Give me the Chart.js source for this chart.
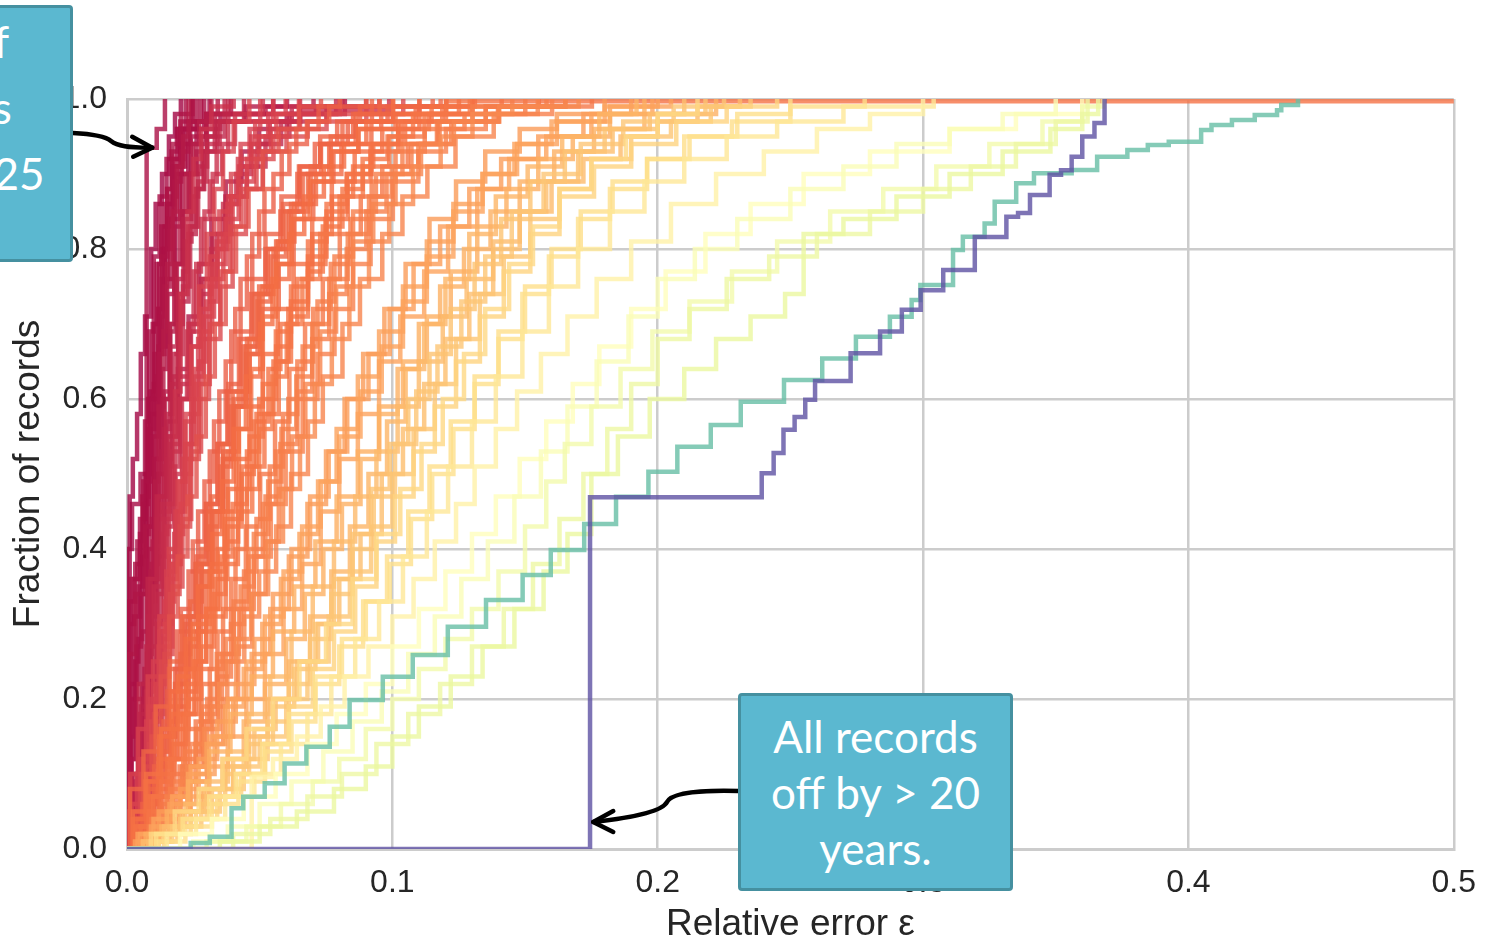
<!DOCTYPE html>
<html>
<head>
<meta charset="utf-8">
<title>Relative error by record source</title>
<script src="https://cdn.jsdelivr.net/npm/chart.js@4.4.1/dist/chart.umd.min.js"></script>
<style>
  html, body { margin: 0; padding: 0; background: #ffffff; overflow: hidden; }
  #stage { position: relative; width: 1491px; height: 943px; overflow: hidden; }
  #chart { position: absolute; left: 0; top: 0; }
  .callout {
    position: absolute; box-sizing: border-box;
    background: #5bb8d0; border: 3px solid #4590a0; border-radius: 4px;
    color: #ffffff; font-family: Lato, "Open Sans", sans-serif; font-size: 44px;
    text-align: center; white-space: nowrap;
  }
  #noteTight  { left: -192px; top: 5px;   width: 265px; height: 257px; line-height: 66px; padding-top: 0; }
  #noteOffset { left: 738px;  top: 693px; width: 275px; height: 198px; line-height: 56px; padding-top: 12px; }
</style>
</head>
<body>
<div id="stage">
  <canvas id="chart" width="1491" height="943"></canvas>
  <div class="callout" id="noteTight">95% of<br>records<br>off by &lt;.25</div>
  <div class="callout" id="noteOffset">All records<br>off by &gt; 20<br>years.</div>
</div>
<script>
// Axis ticks
const xTicks = [0, 0.1, 0.2, 0.3, 0.4, 0.5];
const yTicks = [0, 0.2, 0.4, 0.6, 0.8, 1.0];

// Empirical CDF breakpoints per record source: [relative error, cumulative fraction of records]
const tightSources = [
  [[0.0074,0.935],[0.0112,0.96],[0.0143,1]],
  [[0.001,0.47],[0.0022,0.52],[0.0038,0.58],[0.0052,0.66],[0.0068,0.71],[0.0091,0.8],[0.0108,0.86],[0.0132,0.9],[0.0158,0.95],[0.0181,0.98],[0.0203,1]],
  [[0.0018,0.12],[0.0031,0.25],[0.0043,0.35],[0.0061,0.46],[0.0079,0.6],[0.0097,0.7],[0.0112,0.78],[0.0129,0.83],[0.0151,0.88],[0.0168,0.93],[0.0192,0.96],[0.0221,1]],
  [[0,0.3],[0.0027,0.36],[0.0049,0.42],[0.0083,0.5],[0.0101,0.62],[0.0118,0.72],[0.0134,0.8],[0.0152,0.86],[0.0173,0.92],[0.0201,0.97],[0.0248,1]],
  [[0.0029,0.08],[0.0047,0.16],[0.0062,0.22],[0.0079,0.33],[0.0093,0.44],[0.0108,0.55],[0.0122,0.66],[0.0141,0.75],[0.0163,0.84],[0.0179,0.89],[0.0204,0.93],[0.0232,0.97],[0.0447,0.99],[0.0603,1]],
  [[0.0012,0.15],[0.0028,0.22],[0.0041,0.28],[0.0057,0.39],[0.0072,0.5],[0.0088,0.61],[0.0103,0.7],[0.0121,0.78],[0.0139,0.86],[0.0177,0.91],[0.0219,0.96],[0.0291,1]],
  [[0.0021,0.05],[0.0043,0.12],[0.0061,0.2],[0.0087,0.33],[0.0109,0.45],[0.0127,0.53],[0.0142,0.6],[0.0163,0.7],[0.0178,0.78],[0.0199,0.85],[0.0223,0.9],[0.0248,0.94],[0.0272,0.97],[0.0318,1]],
  [[0.0041,0.1],[0.0058,0.2],[0.0082,0.3],[0.0097,0.41],[0.0121,0.52],[0.0139,0.61],[0.0162,0.7],[0.0188,0.78],[0.0209,0.85],[0.0238,0.9],[0.0262,0.93],[0.0301,0.98],[0.0522,0.99],[0.0703,1]],
  [[0.0011,0.04],[0.0032,0.1],[0.0048,0.18],[0.0073,0.27],[0.0089,0.36],[0.0122,0.47],[0.0148,0.58],[0.0171,0.66],[0.0193,0.74],[0.0218,0.81],[0.0243,0.87],[0.0268,0.91],[0.0302,0.95],[0.0368,1]],
  [[0,0.4],[0.0019,0.46],[0.0051,0.5],[0.0088,0.58],[0.0122,0.67],[0.0148,0.76],[0.0182,0.84],[0.0199,0.9],[0.0231,0.94],[0.0262,0.97],[0.0311,1]],
  [[0.0045,0.02],[0.0061,0.08],[0.0083,0.17],[0.0112,0.3],[0.0128,0.42],[0.0152,0.52],[0.0168,0.62],[0.0193,0.7],[0.0211,0.77],[0.0229,0.83],[0.0262,0.88],[0.0288,0.93],[0.0331,0.97],[0.0382,1]],
  [[0.0015,0.2],[0.0036,0.27],[0.0053,0.34],[0.0077,0.43],[0.0094,0.55],[0.0111,0.63],[0.0124,0.71],[0.0142,0.8],[0.0166,0.87],[0.0188,0.92],[0.0212,0.96],[0.0243,1]],
  [[0.0049,0.04],[0.0076,0.1],[0.0098,0.2],[0.0127,0.31],[0.0149,0.43],[0.0177,0.51],[0.0198,0.6],[0.0226,0.69],[0.0251,0.77],[0.0279,0.84],[0.0312,0.89],[0.0338,0.93],[0.0381,0.97],[0.0652,0.985],[0.0988,1]],
  [[0.0021,0.07],[0.0042,0.14],[0.0066,0.24],[0.0088,0.37],[0.0106,0.49],[0.0119,0.59],[0.0137,0.69],[0.0151,0.78],[0.0172,0.85],[0.0188,0.91],[0.0212,0.95],[0.0233,1]],
  [[0.0005,0.33],[0.0031,0.38],[0.0058,0.47],[0.0082,0.56],[0.0104,0.66],[0.0131,0.76],[0.0153,0.84],[0.0181,0.9],[0.0207,0.94],[0.0238,0.97],[0.0279,1]],
  [[0.0036,0.06],[0.0054,0.15],[0.0076,0.26],[0.0093,0.38],[0.0117,0.5],[0.0133,0.6],[0.0161,0.69],[0.0183,0.78],[0.0212,0.85],[0.0233,0.9],[0.0262,0.94],[0.0298,0.98],[0.0342,1]],
  [[0.0062,0.03],[0.0091,0.08],[0.0122,0.16],[0.0149,0.27],[0.0172,0.38],[0.0198,0.49],[0.0221,0.58],[0.0243,0.67],[0.0272,0.75],[0.0301,0.82],[0.0329,0.88],[0.0362,0.93],[0.0402,0.97],[0.0461,1]],
  [[0.0033,0.05],[0.0068,0.11],[0.0102,0.19],[0.0131,0.28],[0.0158,0.39],[0.0183,0.5],[0.0207,0.6],[0.0232,0.7],[0.0261,0.78],[0.0292,0.85],[0.0323,0.9],[0.0358,0.94],[0.0407,0.98],[0.0512,1]],
  [[0.0008,0.22],[0.0026,0.31],[0.0049,0.44],[0.0068,0.57],[0.0084,0.69],[0.0101,0.79],[0.0123,0.87],[0.0149,0.92],[0.0188,0.96],[0.0352,0.98],[0.0551,1]],
  [[0.0058,0.05],[0.0071,0.18],[0.0089,0.35],[0.0102,0.52],[0.0118,0.67],[0.0131,0.79],[0.0152,0.88],[0.0171,0.94],[0.0203,0.98],[0.0247,1]],
  [[0.0025,0.09],[0.0052,0.19],[0.0081,0.31],[0.0111,0.44],[0.0139,0.56],[0.0162,0.67],[0.0189,0.76],[0.0213,0.84],[0.0242,0.9],[0.0281,0.95],[0.0332,0.98],[0.0712,0.99],[0.0901,1]],
  [[0.0014,0.36],[0.0039,0.41],[0.0062,0.49],[0.0092,0.6],[0.0119,0.72],[0.0142,0.83],[0.0171,0.91],[0.0202,0.96],[0.0263,1]],
  [[0.0068,0.02],[0.0098,0.12],[0.0132,0.29],[0.0158,0.46],[0.0181,0.61],[0.0202,0.74],[0.0228,0.85],[0.0251,0.92],[0.0279,0.96],[0.0318,0.99],[0.0402,1]],
  [[0.0032,0.03],[0.0048,0.09],[0.0069,0.16],[0.0091,0.27],[0.0113,0.39],[0.0142,0.51],[0.0171,0.63],[0.0198,0.73],[0.0232,0.82],[0.0259,0.88],[0.0291,0.93],[0.0341,0.97],[0.0441,1]],
  [[0.0009,0.12],[0.0034,0.2],[0.0057,0.29],[0.0079,0.4],[0.0103,0.52],[0.0128,0.64],[0.0152,0.74],[0.0178,0.83],[0.0208,0.9],[0.0241,0.95],[0.0298,0.98],[0.0392,1]],
  [[0.0045,0.07],[0.0066,0.13],[0.0088,0.22],[0.0114,0.34],[0.0138,0.45],[0.0161,0.55],[0.0187,0.66],[0.0211,0.75],[0.0238,0.83],[0.0268,0.89],[0.0302,0.94],[0.0349,0.97],[0.0621,0.99],[0.0812,1]],
  [[0.0015,0.1],[0.0045,0.22],[0.0078,0.36],[0.0112,0.47],[0.0149,0.55],[0.0192,0.63],[0.0238,0.7],[0.0279,0.76],[0.0322,0.82],[0.0371,0.87],[0.0428,0.91],[0.0492,0.94],[0.0581,0.97],[0.0752,0.99],[0.0951,1]],
  [[0.0038,0.08],[0.0072,0.21],[0.0101,0.35],[0.0132,0.46],[0.0161,0.54],[0.0199,0.62],[0.0241,0.69],[0.0288,0.76],[0.0339,0.82],[0.0392,0.87],[0.0451,0.91],[0.0522,0.95],[0.0612,0.98],[0.0788,1]],
  [[0.0005,0.26],[0.0032,0.34],[0.0068,0.43],[0.0105,0.5],[0.0148,0.57],[0.0192,0.64],[0.0232,0.71],[0.0272,0.78],[0.0318,0.84],[0.0372,0.89],[0.0432,0.93],[0.0498,0.96],[0.0602,0.98],[0.0821,1]],
  [[0.0052,0.04],[0.0081,0.15],[0.0112,0.3],[0.0139,0.44],[0.0168,0.53],[0.0201,0.6],[0.0242,0.67],[0.0278,0.74],[0.0318,0.8],[0.0362,0.86],[0.0412,0.9],[0.0468,0.94],[0.0538,0.97],[0.0652,1]]
];

const moderateSources = [
  [[0.0021,0.03],[0.0049,0.08],[0.0083,0.14],[0.0108,0.22],[0.0142,0.3],[0.0168,0.38],[0.0203,0.46],[0.0227,0.54],[0.0262,0.62],[0.0288,0.69],[0.0321,0.76],[0.0363,0.82],[0.0398,0.87],[0.0452,0.92],[0.0497,0.95],[0.0563,0.98],[0.0648,1]],
  [[0.0012,0.1],[0.0041,0.16],[0.0078,0.23],[0.0122,0.31],[0.0158,0.4],[0.0191,0.49],[0.0218,0.57],[0.0252,0.64],[0.0279,0.72],[0.0312,0.79],[0.0348,0.85],[0.0392,0.9],[0.0428,0.94],[0.0483,0.97],[0.0551,1]],
  [[0.0031,0.02],[0.0072,0.06],[0.0108,0.13],[0.0152,0.21],[0.0188,0.29],[0.0232,0.37],[0.0268,0.45],[0.0312,0.53],[0.0348,0.61],[0.0393,0.69],[0.0428,0.76],[0.0472,0.82],[0.0518,0.88],[0.0583,0.93],[0.0638,0.96],[0.0722,0.99],[0.0802,1]],
  [[0,0.05],[0.0038,0.1],[0.0072,0.17],[0.0098,0.25],[0.0142,0.33],[0.0178,0.42],[0.0212,0.5],[0.0241,0.58],[0.0272,0.65],[0.0298,0.73],[0.0342,0.8],[0.0378,0.86],[0.0422,0.91],[0.0468,0.95],[0.0532,0.98],[0.0598,1]],
  [[0.0042,0.04],[0.0078,0.09],[0.0122,0.16],[0.0158,0.24],[0.0203,0.32],[0.0248,0.41],[0.0292,0.49],[0.0328,0.57],[0.0372,0.65],[0.0408,0.72],[0.0452,0.79],[0.0498,0.85],[0.0552,0.9],[0.0612,0.94],[0.0678,0.97],[0.0762,0.99],[0.0902,1]],
  [[0.0018,0.06],[0.0062,0.12],[0.0088,0.2],[0.0122,0.29],[0.0148,0.37],[0.0182,0.45],[0.0208,0.52],[0.0243,0.6],[0.0268,0.68],[0.0312,0.75],[0.0338,0.81],[0.0382,0.87],[0.0418,0.92],[0.0462,0.96],[0.0502,1]],
  [[0.0032,0.02],[0.0078,0.05],[0.0132,0.1],[0.0178,0.16],[0.0232,0.22],[0.0278,0.29],[0.0333,0.36],[0.0378,0.43],[0.0432,0.5],[0.0478,0.57],[0.0533,0.64],[0.0578,0.7],[0.0642,0.76],[0.0698,0.82],[0.0772,0.87],[0.0852,0.91],[0.0928,0.94],[0.1022,0.97],[0.1148,0.99],[0.1302,1]],
  [[0.0051,0.03],[0.0098,0.07],[0.0162,0.12],[0.0218,0.18],[0.0272,0.24],[0.0318,0.31],[0.0372,0.38],[0.0418,0.45],[0.0472,0.51],[0.0518,0.58],[0.0572,0.65],[0.0618,0.71],[0.0682,0.77],[0.0738,0.83],[0.0812,0.88],[0.0888,0.92],[0.0982,0.95],[0.1078,0.98],[0.1203,1]],
  [[0.0022,0.04],[0.0068,0.09],[0.0122,0.15],[0.0168,0.21],[0.0222,0.28],[0.0268,0.35],[0.0322,0.42],[0.0358,0.49],[0.0402,0.56],[0.0448,0.63],[0.0502,0.7],[0.0548,0.76],[0.0612,0.82],[0.0668,0.87],[0.0742,0.91],[0.0818,0.94],[0.0902,0.97],[0.1003,1]],
  [[0.0042,0.01],[0.0098,0.04],[0.0162,0.08],[0.0218,0.13],[0.0282,0.19],[0.0338,0.26],[0.0402,0.33],[0.0458,0.4],[0.0522,0.47],[0.0578,0.54],[0.0642,0.61],[0.0698,0.68],[0.0762,0.74],[0.0828,0.8],[0.0902,0.85],[0.0978,0.9],[0.1072,0.94],[0.1178,0.97],[0.1302,0.99],[0.1452,1]],
  [[0.0011,0.08],[0.0062,0.13],[0.0108,0.19],[0.0162,0.25],[0.0208,0.31],[0.0262,0.38],[0.0308,0.45],[0.0362,0.52],[0.0408,0.59],[0.0462,0.66],[0.0508,0.72],[0.0572,0.78],[0.0628,0.84],[0.0702,0.89],[0.0778,0.93],[0.0872,0.96],[0.0958,0.98],[0.1102,1]],
  [[0.0062,0.02],[0.0118,0.05],[0.0182,0.09],[0.0238,0.14],[0.0302,0.2],[0.0358,0.26],[0.0422,0.32],[0.0478,0.39],[0.0542,0.46],[0.0598,0.53],[0.0662,0.6],[0.0718,0.66],[0.0782,0.72],[0.0852,0.78],[0.0918,0.84],[0.1002,0.89],[0.1098,0.93],[0.1202,0.96],[0.1352,0.98],[0.1602,1]],
  [[0.0032,0.03],[0.0088,0.07],[0.0152,0.12],[0.0198,0.18],[0.0252,0.25],[0.0298,0.32],[0.0352,0.39],[0.0398,0.46],[0.0452,0.53],[0.0498,0.6],[0.0562,0.67],[0.0618,0.73],[0.0682,0.79],[0.0752,0.85],[0.0828,0.9],[0.0922,0.94],[0.1048,0.97],[0.1202,0.997],[0.6,1]],
  [[0.0022,0.05],[0.0072,0.1],[0.0128,0.16],[0.0192,0.23],[0.0248,0.3],[0.0312,0.37],[0.0368,0.44],[0.0432,0.51],[0.0488,0.58],[0.0552,0.65],[0.0608,0.72],[0.0682,0.78],[0.0748,0.84],[0.0832,0.89],[0.0918,0.93],[0.1022,0.96],[0.1138,0.98],[0.1302,1]],
  [[0.0082,0.02],[0.0138,0.05],[0.0202,0.09],[0.0258,0.14],[0.0322,0.19],[0.0378,0.25],[0.0442,0.31],[0.0498,0.37],[0.0562,0.43],[0.0618,0.5],[0.0682,0.57],[0.0738,0.63],[0.0812,0.7],[0.0878,0.76],[0.0962,0.82],[0.1038,0.87],[0.1132,0.91],[0.1238,0.95],[0.1382,0.98],[0.1548,1]],
  [[0.0032,0.04],[0.0078,0.08],[0.0122,0.13],[0.0158,0.19],[0.0202,0.26],[0.0238,0.33],[0.0282,0.4],[0.0318,0.47],[0.0362,0.54],[0.0398,0.61],[0.0452,0.68],[0.0498,0.75],[0.0562,0.81],[0.0618,0.86],[0.0692,0.91],[0.0768,0.95],[0.0862,0.98],[0.0952,1]],
  [[0.0021,0.02],[0.0058,0.06],[0.0102,0.11],[0.0138,0.17],[0.0182,0.24],[0.0218,0.31],[0.0262,0.39],[0.0298,0.46],[0.0342,0.54],[0.0378,0.61],[0.0422,0.68],[0.0468,0.74],[0.0522,0.8],[0.0578,0.85],[0.0642,0.9],[0.0708,0.94],[0.0792,0.97],[0.0878,0.99],[0.1002,1]],
  [[0.0052,0.01],[0.0108,0.03],[0.0172,0.07],[0.0228,0.11],[0.0292,0.16],[0.0348,0.22],[0.0412,0.28],[0.0468,0.34],[0.0532,0.41],[0.0588,0.48],[0.0652,0.55],[0.0708,0.62],[0.0772,0.68],[0.0838,0.75],[0.0912,0.81],[0.0988,0.86],[0.1078,0.91],[0.1182,0.95],[0.1302,0.98],[0.1452,0.99],[0.1702,1]],
  [[0.0028,0.03],[0.0061,0.08],[0.0093,0.15],[0.0127,0.23],[0.0159,0.31],[0.0191,0.39],[0.0228,0.47],[0.0262,0.55],[0.0297,0.63],[0.0331,0.7],[0.0372,0.77],[0.0411,0.83],[0.0458,0.88],[0.0512,0.93],[0.0571,0.96],[0.0648,0.99],[0.0731,1]],
  [[0.0039,0.02],[0.0082,0.06],[0.0119,0.11],[0.0161,0.17],[0.0203,0.24],[0.0239,0.31],[0.0281,0.38],[0.0322,0.45],[0.0361,0.52],[0.0402,0.59],[0.0449,0.66],[0.0492,0.73],[0.0541,0.79],[0.0599,0.85],[0.0662,0.9],[0.0731,0.94],[0.0812,0.97],[0.0923,1]],
  [[0.0018,0.04],[0.0052,0.1],[0.0091,0.17],[0.0128,0.25],[0.0162,0.34],[0.0198,0.43],[0.0238,0.52],[0.0271,0.6],[0.0309,0.68],[0.0352,0.75],[0.0398,0.82],[0.0448,0.88],[0.0512,0.93],[0.0601,0.96],[0.0752,0.98],[0.1041,1]],
  [[0.0049,0.03],[0.0099,0.07],[0.0148,0.12],[0.0189,0.19],[0.0232,0.27],[0.0271,0.35],[0.0312,0.43],[0.0351,0.51],[0.0392,0.59],[0.0438,0.67],[0.0482,0.74],[0.0531,0.8],[0.0588,0.86],[0.0652,0.91],[0.0728,0.95],[0.0852,0.98],[0.1102,1]],
  [[0.0031,0.05],[0.0069,0.11],[0.0102,0.18],[0.0141,0.26],[0.0172,0.35],[0.0209,0.44],[0.0242,0.53],[0.0279,0.62],[0.0312,0.7],[0.0352,0.77],[0.0389,0.83],[0.0431,0.88],[0.0488,0.92],[0.0552,0.95],[0.0681,0.97],[0.0902,0.99],[0.1203,1]],
  [[0.0062,0.02],[0.0112,0.05],[0.0171,0.1],[0.0228,0.16],[0.0281,0.22],[0.0341,0.29],[0.0392,0.36],[0.0448,0.43],[0.0502,0.5],[0.0558,0.57],[0.0612,0.64],[0.0671,0.7],[0.0738,0.76],[0.0802,0.82],[0.0881,0.87],[0.0962,0.91],[0.1058,0.94],[0.1172,0.97],[0.1398,0.99],[0.1752,1]],
  [[0.0012,0.06],[0.0048,0.12],[0.0081,0.19],[0.0119,0.27],[0.0152,0.36],[0.0188,0.45],[0.0219,0.54],[0.0251,0.63],[0.0289,0.71],[0.0328,0.78],[0.0372,0.84],[0.0421,0.89],[0.0478,0.93],[0.0542,0.96],[0.0652,0.98],[0.0802,1]],
  [[0.0038,0.02],[0.0082,0.05],[0.0128,0.09],[0.0179,0.14],[0.0231,0.2],[0.0279,0.27],[0.0328,0.34],[0.0371,0.41],[0.0419,0.48],[0.0462,0.55],[0.0512,0.62],[0.0561,0.69],[0.0618,0.75],[0.0682,0.81],[0.0752,0.86],[0.0829,0.9],[0.0918,0.94],[0.1032,0.97],[0.1188,0.99],[0.1412,1]],
  [[0.0071,0.03],[0.0121,0.07],[0.0168,0.12],[0.0212,0.18],[0.0258,0.25],[0.0299,0.32],[0.0342,0.4],[0.0381,0.48],[0.0422,0.56],[0.0468,0.64],[0.0512,0.71],[0.0562,0.78],[0.0621,0.84],[0.0688,0.89],[0.0771,0.93],[0.0872,0.96],[0.1012,0.98],[0.1251,1]],
  [[0.0025,0.03],[0.0072,0.07],[0.0118,0.12],[0.0168,0.18],[0.0221,0.24],[0.0268,0.31],[0.0318,0.38],[0.0368,0.45],[0.0412,0.52],[0.0462,0.59],[0.0512,0.66],[0.0568,0.72],[0.0628,0.78],[0.0698,0.84],[0.0772,0.89],[0.0858,0.93],[0.0962,0.96],[0.1102,0.98],[0.1352,0.99],[0.1552,1]],
  [[0.0058,0.04],[0.0102,0.09],[0.0142,0.15],[0.0182,0.22],[0.0219,0.3],[0.0258,0.38],[0.0298,0.46],[0.0341,0.54],[0.0382,0.62],[0.0428,0.69],[0.0472,0.76],[0.0522,0.82],[0.0582,0.87],[0.0648,0.91],[0.0728,0.94],[0.0832,0.97],[0.0982,0.99],[0.1152,1]],
  [[0.0042,0.01],[0.0092,0.04],[0.0152,0.07],[0.0208,0.11],[0.0262,0.16],[0.0318,0.22],[0.0372,0.28],[0.0428,0.35],[0.0478,0.42],[0.0532,0.49],[0.0582,0.56],[0.0638,0.63],[0.0698,0.7],[0.0762,0.76],[0.0832,0.82],[0.0912,0.87],[0.0998,0.91],[0.1098,0.94],[0.1222,0.97],[0.1402,0.99],[0.1652,1]],
  [[0.0055,0.03],[0.0112,0.08],[0.0168,0.14],[0.0221,0.21],[0.0262,0.29],[0.0298,0.37],[0.0338,0.45],[0.0379,0.53],[0.0421,0.61],[0.0462,0.68],[0.0511,0.75],[0.0568,0.81],[0.0631,0.86],[0.0712,0.9],[0.0808,0.94],[0.0921,0.97],[0.1088,0.99],[0.1311,1]],
  [[0.0082,0.03],[0.0148,0.07],[0.0212,0.12],[0.0278,0.18],[0.0341,0.25],[0.0402,0.32],[0.0458,0.39],[0.0512,0.46],[0.0561,0.53],[0.0608,0.6],[0.0662,0.67],[0.0718,0.73],[0.0782,0.79],[0.0852,0.85],[0.0938,0.9],[0.1038,0.94],[0.1168,0.97],[0.1352,0.99],[0.1581,1]],
  [[0.0068,0.02],[0.0131,0.06],[0.0198,0.11],[0.0259,0.17],[0.0312,0.24],[0.0362,0.32],[0.0409,0.4],[0.0452,0.48],[0.0498,0.56],[0.0548,0.63],[0.0602,0.7],[0.0661,0.76],[0.0728,0.82],[0.0801,0.87],[0.0889,0.91],[0.0988,0.95],[0.1121,0.98],[0.1292,1]],
  [[0.0105,0.02],[0.0172,0.05],[0.0238,0.09],[0.0302,0.14],[0.0362,0.2],[0.0419,0.27],[0.0472,0.34],[0.0522,0.41],[0.0572,0.48],[0.0622,0.55],[0.0672,0.62],[0.0728,0.69],[0.0788,0.75],[0.0852,0.81],[0.0928,0.86],[0.1012,0.9],[0.1108,0.94],[0.1232,0.97],[0.1402,0.99],[0.1652,1]],
  [[0.0035,0.04],[0.0081,0.09],[0.0131,0.15],[0.0181,0.22],[0.0232,0.29],[0.0279,0.37],[0.0322,0.45],[0.0362,0.53],[0.0402,0.6],[0.0448,0.67],[0.0498,0.74],[0.0552,0.8],[0.0612,0.85],[0.0682,0.9],[0.0762,0.94],[0.0862,0.97],[0.1002,0.99],[0.1182,1]],
  [[0.0092,0.02],[0.0162,0.06],[0.0228,0.11],[0.0288,0.17],[0.0342,0.23],[0.0392,0.3],[0.0441,0.37],[0.0488,0.44],[0.0538,0.51],[0.0588,0.58],[0.0642,0.65],[0.0702,0.72],[0.0768,0.78],[0.0842,0.84],[0.0922,0.89],[0.1012,0.93],[0.1122,0.96],[0.1272,0.98],[0.1501,1]]
];

const looseSources = [
  [[0.005,0.01],[0.012,0.03],[0.019,0.06],[0.026,0.1],[0.033,0.15],[0.04,0.2],[0.047,0.26],[0.054,0.32],[0.061,0.39],[0.068,0.46],[0.075,0.53],[0.082,0.6],[0.089,0.66],[0.097,0.72],[0.105,0.78],[0.114,0.84],[0.124,0.89],[0.135,0.93],[0.148,0.96],[0.162,0.98],[0.18,1]],
  [[0.004,0.02],[0.01,0.04],[0.017,0.07],[0.024,0.11],[0.031,0.15],[0.038,0.2],[0.045,0.25],[0.052,0.31],[0.059,0.37],[0.066,0.43],[0.073,0.49],[0.08,0.55],[0.088,0.61],[0.096,0.67],[0.104,0.73],[0.113,0.79],[0.123,0.85],[0.134,0.9],[0.146,0.94],[0.16,0.97],[0.18,0.99],[0.2,1]],
  [[0.006,0.01],[0.014,0.03],[0.022,0.06],[0.03,0.09],[0.038,0.13],[0.046,0.18],[0.054,0.23],[0.062,0.29],[0.07,0.35],[0.078,0.41],[0.086,0.47],[0.094,0.53],[0.102,0.59],[0.11,0.65],[0.119,0.71],[0.128,0.76],[0.138,0.81],[0.148,0.85],[0.16,0.89],[0.172,0.92],[0.186,0.95],[0.2,0.97],[0.215,0.99],[0.231,1]],
  [[0.008,0.01],[0.016,0.03],[0.024,0.05],[0.032,0.08],[0.04,0.12],[0.048,0.16],[0.056,0.2],[0.064,0.25],[0.072,0.3],[0.08,0.36],[0.088,0.42],[0.096,0.5],[0.104,0.56],[0.112,0.62],[0.12,0.68],[0.129,0.74],[0.138,0.8],[0.148,0.85],[0.158,0.89],[0.17,0.93],[0.183,0.96],[0.197,0.98],[0.21,1]],
  [[0.01,0.02],[0.02,0.04],[0.03,0.07],[0.04,0.11],[0.05,0.15],[0.06,0.2],[0.068,0.25],[0.076,0.31],[0.084,0.37],[0.092,0.43],[0.1,0.5],[0.108,0.56],[0.116,0.62],[0.124,0.68],[0.133,0.74],[0.142,0.79],[0.152,0.84],[0.163,0.88],[0.175,0.92],[0.19,0.95],[0.205,0.97],[0.22,0.99],[0.235,1]],
  [[0.012,0.01],[0.022,0.03],[0.032,0.06],[0.042,0.09],[0.052,0.13],[0.062,0.17],[0.071,0.22],[0.08,0.27],[0.089,0.33],[0.098,0.39],[0.106,0.45],[0.114,0.51],[0.122,0.57],[0.131,0.63],[0.14,0.69],[0.15,0.75],[0.16,0.8],[0.171,0.85],[0.183,0.89],[0.196,0.92],[0.21,0.95],[0.228,0.97],[0.25,0.99],[0.278,1]],
  [[0.015,0.02],[0.026,0.04],[0.037,0.07],[0.048,0.1],[0.058,0.14],[0.068,0.18],[0.077,0.23],[0.086,0.28],[0.095,0.33],[0.104,0.39],[0.113,0.45],[0.121,0.51],[0.13,0.57],[0.139,0.63],[0.149,0.69],[0.159,0.75],[0.17,0.8],[0.182,0.85],[0.195,0.89],[0.21,0.92],[0.226,0.95],[0.245,0.97],[0.27,0.99],[0.304,1]],
  [[0.009,0.02],[0.018,0.05],[0.027,0.08],[0.036,0.12],[0.045,0.16],[0.055,0.2],[0.065,0.25],[0.075,0.3],[0.085,0.36],[0.094,0.42],[0.103,0.48],[0.111,0.54],[0.119,0.6],[0.127,0.66],[0.135,0.72],[0.144,0.78],[0.153,0.83],[0.163,0.88],[0.175,0.92],[0.188,0.95],[0.2,0.98],[0.215,1]],
  [[0.007,0.02],[0.015,0.05],[0.023,0.09],[0.031,0.13],[0.039,0.18],[0.047,0.23],[0.055,0.29],[0.063,0.35],[0.071,0.41],[0.079,0.47],[0.087,0.53],[0.095,0.59],[0.104,0.65],[0.113,0.71],[0.122,0.77],[0.132,0.83],[0.143,0.88],[0.155,0.92],[0.168,0.95],[0.182,0.98],[0.195,1]],
  [[0.006,0.01],[0.013,0.03],[0.021,0.05],[0.029,0.08],[0.037,0.11],[0.045,0.15],[0.053,0.2],[0.061,0.25],[0.069,0.31],[0.077,0.37],[0.084,0.43],[0.091,0.5],[0.098,0.57],[0.105,0.64],[0.112,0.7],[0.12,0.76],[0.129,0.82],[0.139,0.87],[0.151,0.91],[0.164,0.95],[0.178,0.98],[0.192,1]],
  [[0.011,0.02],[0.021,0.04],[0.031,0.07],[0.041,0.1],[0.051,0.14],[0.061,0.18],[0.071,0.23],[0.081,0.28],[0.09,0.33],[0.099,0.38],[0.107,0.44],[0.115,0.5],[0.123,0.56],[0.131,0.62],[0.14,0.68],[0.149,0.74],[0.159,0.79],[0.17,0.84],[0.182,0.88],[0.196,0.92],[0.212,0.95],[0.23,0.98],[0.25,1]],
  [[0.008,0.02],[0.016,0.04],[0.024,0.07],[0.031,0.11],[0.038,0.15],[0.045,0.2],[0.052,0.26],[0.059,0.32],[0.066,0.38],[0.073,0.45],[0.08,0.52],[0.087,0.58],[0.095,0.65],[0.103,0.71],[0.112,0.77],[0.121,0.83],[0.132,0.88],[0.144,0.92],[0.158,0.95],[0.175,0.98],[0.198,1]],
  [[0.012,0.02],[0.02,0.05],[0.028,0.08],[0.036,0.12],[0.044,0.17],[0.052,0.22],[0.06,0.28],[0.067,0.34],[0.074,0.4],[0.081,0.46],[0.088,0.52],[0.095,0.58],[0.102,0.64],[0.11,0.7],[0.118,0.75],[0.127,0.8],[0.137,0.85],[0.148,0.89],[0.161,0.93],[0.176,0.96],[0.195,0.98],[0.222,1]],
  [[0.003,0.01],[0.009,0.03],[0.016,0.06],[0.023,0.1],[0.03,0.14],[0.037,0.19],[0.044,0.24],[0.051,0.3],[0.058,0.36],[0.065,0.42],[0.072,0.49],[0.079,0.56],[0.087,0.63],[0.095,0.69],[0.104,0.75],[0.113,0.81],[0.123,0.86],[0.134,0.9],[0.147,0.94],[0.162,0.97],[0.182,0.99],[0.205,1]],
  [[0.01,0.01],[0.019,0.03],[0.028,0.06],[0.037,0.1],[0.046,0.14],[0.055,0.19],[0.063,0.24],[0.071,0.3],[0.078,0.36],[0.085,0.42],[0.092,0.48],[0.099,0.54],[0.106,0.6],[0.114,0.66],[0.122,0.72],[0.131,0.78],[0.141,0.84],[0.152,0.89],[0.165,0.93],[0.18,0.96],[0.2,0.98],[0.218,1]],
  [[0.014,0.02],[0.024,0.04],[0.034,0.07],[0.043,0.1],[0.052,0.14],[0.061,0.19],[0.07,0.24],[0.078,0.29],[0.086,0.35],[0.094,0.41],[0.101,0.47],[0.108,0.53],[0.116,0.59],[0.124,0.65],[0.133,0.71],[0.142,0.77],[0.152,0.82],[0.163,0.87],[0.176,0.91],[0.19,0.94],[0.207,0.97],[0.226,0.99],[0.245,1]],
  [[0.005,0.02],[0.012,0.05],[0.02,0.08],[0.027,0.12],[0.034,0.17],[0.041,0.22],[0.048,0.28],[0.055,0.34],[0.062,0.4],[0.069,0.47],[0.076,0.53],[0.083,0.6],[0.091,0.66],[0.099,0.72],[0.108,0.78],[0.118,0.83],[0.129,0.88],[0.141,0.92],[0.155,0.95],[0.172,0.98],[0.19,1]],
  [[0.009,0.01],[0.017,0.03],[0.026,0.05],[0.035,0.08],[0.044,0.12],[0.053,0.17],[0.061,0.22],[0.069,0.28],[0.077,0.34],[0.085,0.4],[0.093,0.47],[0.101,0.54],[0.109,0.61],[0.117,0.67],[0.126,0.73],[0.135,0.79],[0.145,0.85],[0.157,0.9],[0.171,0.94],[0.187,0.97],[0.206,0.99],[0.225,1]]
];

const wideSources = [
  [[0.047,0.096],[0.055,0.12],[0.064,0.15],[0.073,0.19],[0.082,0.23],[0.091,0.27],[0.1,0.31],[0.108,0.36],[0.116,0.41],[0.124,0.46],[0.131,0.51],[0.139,0.56],[0.147,0.61],[0.156,0.66],[0.166,0.71],[0.177,0.76],[0.19,0.81],[0.205,0.86],[0.222,0.9],[0.24,0.93],[0.26,0.96],[0.28,0.98],[0.3,1]],
  [[0.02,0.02],[0.032,0.04],[0.044,0.07],[0.056,0.1],[0.068,0.14],[0.079,0.18],[0.09,0.22],[0.1,0.27],[0.11,0.32],[0.12,0.37],[0.13,0.42],[0.139,0.47],[0.148,0.52],[0.158,0.57],[0.168,0.62],[0.178,0.67],[0.19,0.72],[0.203,0.77],[0.218,0.82],[0.235,0.86],[0.255,0.9],[0.28,0.93],[0.31,0.96],[0.335,0.98],[0.36,1]],
  [[0.025,0.01],[0.038,0.03],[0.05,0.06],[0.062,0.09],[0.074,0.13],[0.085,0.17],[0.096,0.21],[0.106,0.26],[0.116,0.31],[0.126,0.36],[0.136,0.41],[0.146,0.47],[0.156,0.53],[0.166,0.59],[0.177,0.65],[0.189,0.71],[0.2,0.76],[0.214,0.8],[0.23,0.84],[0.25,0.88],[0.27,0.91],[0.29,0.94],[0.31,0.96],[0.33,0.98],[0.35,1]],
  [[0.03,0.01],[0.045,0.03],[0.058,0.06],[0.07,0.09],[0.08,0.12],[0.09,0.16],[0.1,0.2],[0.11,0.24],[0.12,0.28],[0.13,0.32],[0.14,0.37],[0.15,0.43],[0.158,0.49],[0.165,0.54],[0.175,0.59],[0.186,0.64],[0.198,0.69],[0.212,0.73],[0.228,0.77],[0.245,0.81],[0.265,0.85],[0.285,0.88],[0.305,0.91],[0.325,0.94],[0.345,0.97],[0.36,0.99],[0.368,1]],
  [[0.035,0.01],[0.05,0.03],[0.064,0.05],[0.078,0.08],[0.09,0.11],[0.1,0.15],[0.11,0.19],[0.122,0.23],[0.134,0.27],[0.146,0.32],[0.157,0.37],[0.166,0.42],[0.175,0.5],[0.185,0.55],[0.197,0.6],[0.21,0.64],[0.222,0.68],[0.235,0.71],[0.248,0.74],[0.255,0.82],[0.27,0.84],[0.29,0.87],[0.31,0.9],[0.33,0.93],[0.348,0.96],[0.36,0.98],[0.366,1]],
  [[0.04,0.02],[0.054,0.04],[0.068,0.07],[0.081,0.1],[0.094,0.14],[0.106,0.18],[0.118,0.22],[0.13,0.27],[0.142,0.32],[0.153,0.38],[0.163,0.44],[0.172,0.5],[0.181,0.56],[0.19,0.62],[0.2,0.68],[0.212,0.72],[0.226,0.76],[0.242,0.79],[0.26,0.82],[0.28,0.85],[0.3,0.88],[0.318,0.91],[0.335,0.94],[0.35,0.97],[0.362,1]]
];

const broadSource = [[0.024,0.008],[0.0312,0.0164],[0.0394,0.0542],[0.0438,0.0698],[0.0519,0.0876],[0.0594,0.114],[0.0676,0.1364],[0.0764,0.163],[0.0839,0.1987],[0.0964,0.2298],[0.1077,0.2587],[0.1209,0.2964],[0.1353,0.332],[0.1491,0.3653],[0.1597,0.3987],[0.1723,0.4333],[0.1843,0.4698],[0.1965,0.503],[0.2074,0.5364],[0.22,0.5653],[0.2313,0.5964],[0.2476,0.6253],[0.262,0.654],[0.2747,0.683],[0.2875,0.7097],[0.2957,0.732],[0.299,0.752],[0.3113,0.7987],[0.315,0.8164],[0.3232,0.834],[0.327,0.863],[0.3351,0.8876],[0.3418,0.9009],[0.356,0.9053],[0.3656,0.9231],[0.377,0.932],[0.3847,0.9387],[0.3926,0.943],[0.4048,0.9587],[0.4087,0.9653],[0.4164,0.972],[0.425,0.9787],[0.4334,0.985],[0.435,0.992],[0.4413,1]];

const offsetSource = [[0.1745,0.469],[0.2392,0.501],[0.2437,0.528],[0.2474,0.559],[0.2516,0.576],[0.2556,0.599],[0.2593,0.624],[0.2727,0.661],[0.2838,0.69],[0.292,0.719],[0.2991,0.745],[0.3076,0.772],[0.3195,0.816],[0.3314,0.843],[0.3358,0.848],[0.3403,0.872],[0.3477,0.899],[0.352,0.905],[0.356,0.923],[0.36,0.95],[0.3646,0.968],[0.3684,1]];

// Lines are coloured by their median error along a diverging Spectral ramp
const RAMP = [[0,'#9e0142'],[0.1,'#d53e4f'],[0.2,'#f46d43'],[0.3,'#fdae61'],[0.4,'#fee08b'],[0.5,'#ffffbf'],[0.6,'#e6f598'],[0.7,'#abdda4'],[0.8,'#66c2a5'],[1.0,'#5e4fa2']];
const MEDIAN_TO_RAMP = [[0,0],[0.01,0.03],[0.018,0.08],[0.028,0.15],[0.04,0.2],[0.06,0.23],[0.075,0.27],[0.09,0.31],[0.11,0.38],[0.125,0.44],[0.15,0.5],[0.175,0.58],[0.18,0.62],[0.195,0.8],[0.24,1]];

function piecewise(stops, v) {
  if (v <= stops[0][0]) return stops[0][1];
  for (let i = 1; i < stops.length; i++) {
    if (v <= stops[i][0]) {
      const [a, av] = stops[i - 1], [b, bv] = stops[i];
      return av + (bv - av) * (v - a) / (b - a);
    }
  }
  return stops[stops.length - 1][1];
}
function hexRgb(h) { return [1, 3, 5].map(i => parseInt(h.slice(i, i + 2), 16)); }
function rampColor(t, alpha) {
  for (let i = 1; i < RAMP.length; i++) {
    if (t <= RAMP[i][0] || i === RAMP.length - 1) {
      const [a, ac] = RAMP[i - 1], [b, bc] = RAMP[i];
      const f = Math.max(0, Math.min(1, (t - a) / (b - a)));
      const c0 = hexRgb(ac), c1 = hexRgb(bc);
      const c = c0.map((v, k) => Math.round(v + (c1[k] - v) * f));
      return `rgba(${c[0]},${c[1]},${c[2]},${alpha})`;
    }
  }
}
function medianError(points) {
  for (const [x, y] of points) if (y >= 0.5) return x;
  return points[points.length - 1][0];
}

const allSources = [...tightSources, ...moderateSources, ...looseSources, ...wideSources, broadSource, offsetSource]
  .map(pts => ({ pts, med: medianError(pts) }))
  .sort((a, b) => a.med - b.med);

const N = allSources.length;
const datasets = allSources.map((s, i) => ({
  data: [{ x: 0, y: 0 }, ...s.pts.map(([x, y]) => ({ x, y }))],
  stepped: true,
  borderColor: rampColor(piecewise(MEDIAN_TO_RAMP, s.med), 0.8),
  borderWidth: 4.5,
  borderCapStyle: 'butt',
  borderJoinStyle: 'miter',
  pointRadius: 0,
  fill: false,
  clip: 0,
  order: N - i
}));

// Curved pointers from the callout boxes to the lines they describe
const calloutArrows = {
  id: 'calloutArrows',
  afterDraw(chart) {
    const { ctx } = chart;
    const xs = chart.scales.x, ys = chart.scales.y;
    ctx.save();
    ctx.strokeStyle = '#000000';
    ctx.lineWidth = 4.5;
    ctx.lineCap = 'round';
    ctx.lineJoin = 'round';

    // upper callout -> tightest source
    let tx = xs.getPixelForValue(0.0095), ty = ys.getPixelForValue(0.935);
    ctx.beginPath();
    ctx.moveTo(73, 133);
    ctx.bezierCurveTo(93, 134, 105, 136, 111, 141);
    ctx.bezierCurveTo(117, 146, 128, 148, tx, ty);
    ctx.stroke();
    ctx.beginPath();
    ctx.moveTo(tx - 20, ty - 11); ctx.lineTo(tx, ty); ctx.lineTo(tx - 19, ty + 9);
    ctx.stroke();

    // lower callout -> offset source
    tx = xs.getPixelForValue(0.1757); ty = ys.getPixelForValue(0.036);
    ctx.beginPath();
    ctx.moveTo(739, 791);
    ctx.bezierCurveTo(705, 790, 672, 792, 667, 802);
    ctx.bezierCurveTo(662, 812, 630, 818, tx, ty);
    ctx.stroke();
    ctx.beginPath();
    ctx.moveTo(tx + 20, ty - 11); ctx.lineTo(tx, ty); ctx.lineTo(tx + 20, ty + 10);
    ctx.stroke();
    ctx.restore();
  }
};

const tickFont = { family: 'Liberation Sans, Arial, sans-serif', size: 32 };
const titleFont = { family: 'Liberation Sans, Arial, sans-serif', size: 37, lineHeight: 1 };
const gridStyle = { color: '#cccccc', lineWidth: 2.5, drawTicks: false };
const borderStyle = { color: '#cccccc', width: 3 };

new Chart(document.getElementById('chart'), {
  type: 'line',
  data: { datasets },
  options: {
    responsive: false,
    animation: false,
    devicePixelRatio: 1,
    events: [],
    layout: { padding: { left: 0, right: 35, top: 99, bottom: 0 } },
    plugins: { legend: { display: false }, tooltip: { enabled: false } },
    scales: {
      x: {
        type: 'linear', min: 0, max: 0.5,
        afterBuildTicks: s => { s.ticks = xTicks.map(v => ({ value: v })); },
        afterFit: s => { s.height = 94; },
        ticks: { callback: v => Number(v).toFixed(1), font: tickFont, color: '#262626', padding: 15, maxRotation: 0, autoSkip: false },
        grid: gridStyle,
        border: borderStyle,
        title: { display: true, text: 'Relative error ε', font: titleFont, color: '#262626', padding: { top: 0, bottom: 0 } }
      },
      y: {
        type: 'linear', min: 0, max: 1,
        afterBuildTicks: s => { s.ticks = yTicks.map(v => ({ value: v })); },
        afterFit: s => { s.width = 127; },
        ticks: { callback: v => Number(v).toFixed(1), font: tickFont, color: '#262626', padding: 20, autoSkip: false },
        grid: gridStyle,
        border: borderStyle,
        title: { display: true, text: 'Fraction of records', font: titleFont, color: '#262626', padding: { top: 10, bottom: 0 } }
      }
    }
  },
  plugins: [calloutArrows]
});
</script>
</body>
</html>
